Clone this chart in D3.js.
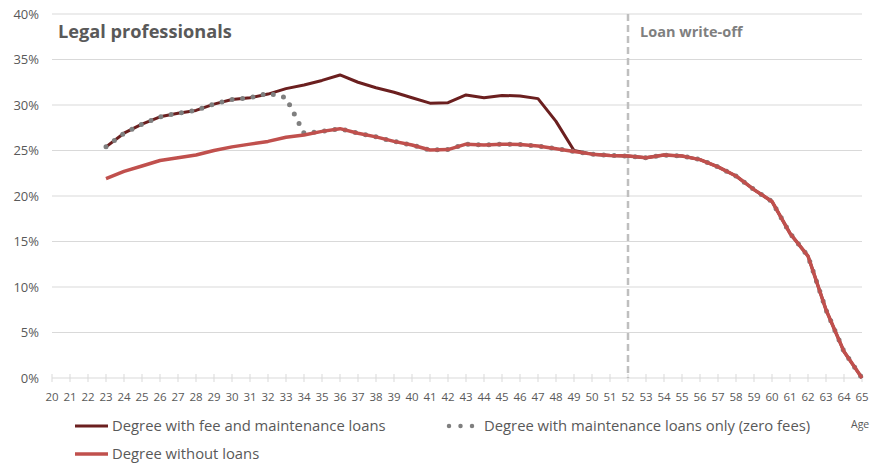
<!DOCTYPE html>
<html>
<head>
<meta charset="utf-8">
<script src="https://cdn.jsdelivr.net/npm/d3@7"></script>
<style>
  body { margin: 0; background: #fff; }
  svg { font-family: "Open Sans", sans-serif; }
  .grid line { stroke: #d9d9d9; stroke-width: 1; }
  .ytick { fill: #595959; font-size: 13px; }
  .xtick { fill: #595959; font-size: 11.5px; }
  .legend text { fill: #595959; font-size: 14.8px; }
</style>
</head>
<body>
<svg id="chart"></svg>
<script>
// ages on the x axis
var ages = d3.range(20, 66);

// series values (%), by age
var feeAges = d3.range(23, 66);
var feeValues = [25.4, 26.9, 27.9, 28.7, 29.1, 29.4, 30.1, 30.6, 30.8, 31.2, 31.8, 32.2, 32.7, 33.3,
  32.5, 31.9, 31.4, 30.8, 30.2, 30.25, 31.1, 30.8, 31.05, 31.0, 30.7, 28.2, 25.0,
  24.6, 24.45, 24.4, 24.2, 24.5, 24.4, 24.0, 23.2, 22.2, 20.7, 19.4, 15.9, 13.4, 7.5, 2.9, 0];

var maintAges = d3.range(23, 66);
var maintValues = [25.4, 26.9, 27.9, 28.7, 29.1, 29.4, 30.1, 30.6, 30.8, 31.3, 30.8, 26.9, 27.1, 27.4,
  26.9, 26.5, 26.0, 25.6, 25.05, 25.1, 25.7, 25.6, 25.7, 25.65, 25.5, 25.2, 24.9,
  24.6, 24.45, 24.4, 24.2, 24.5, 24.4, 24.0, 23.2, 22.2, 20.7, 19.4, 15.9, 13.4, 7.5, 2.9, 0];

var noLoanAges = d3.range(23, 66);
var noLoanValues = [21.9, 22.7, 23.3, 23.9, 24.2, 24.5, 25.0, 25.4, 25.7, 26.0, 26.45, 26.7, 27.1, 27.4,
  26.9, 26.5, 26.0, 25.6, 25.05, 25.1, 25.7, 25.6, 25.7, 25.65, 25.5, 25.2, 24.9,
  24.6, 24.45, 24.4, 24.2, 24.5, 24.4, 24.0, 23.2, 22.2, 20.7, 19.4, 15.9, 13.4, 7.5, 2.9, 0];

var yTicks = [0, 5, 10, 15, 20, 25, 30, 35, 40];
var writeOffAge = 52;

var width = 870, height = 465;
var svg = d3.select("#chart").attr("width", width).attr("height", height);

var x = d3.scaleLinear().domain([20, 65]).range([52, 862]);
var y = d3.scaleLinear().domain([0, 40]).range([378, 14]);

// gridlines
svg.append("g").attr("class", "grid")
  .selectAll("line").data(yTicks.filter(function(d) { return d > 0; }))
  .enter().append("line")
  .attr("x1", x(20)).attr("x2", x(65))
  .attr("y1", function(d) { return y(d); })
  .attr("y2", function(d) { return y(d); });

// y labels
svg.append("g").selectAll("text").data(yTicks).enter().append("text")
  .attr("class", "ytick")
  .attr("x", 39).attr("y", function(d) { return y(d); })
  .attr("dy", "0.35em").attr("text-anchor", "end")
  .text(function(d) { return d + "%"; });

// x axis
svg.append("line")
  .attr("x1", x(20)).attr("x2", x(65)).attr("y1", y(0)).attr("y2", y(0))
  .attr("stroke", "#d9d9d9");
svg.append("g").selectAll("line").data(ages).enter().append("line")
  .attr("x1", function(d) { return x(d); }).attr("x2", function(d) { return x(d); })
  .attr("y1", y(0) - 4).attr("y2", y(0) + 4)
  .attr("stroke", "#d9d9d9");
svg.append("g").selectAll("text").data(ages).enter().append("text")
  .attr("class", "xtick")
  .attr("x", function(d) { return x(d); }).attr("y", 401)
  .attr("text-anchor", "middle")
  .text(function(d) { return d; });
svg.append("text").attr("x", 851).attr("y", 428)
  .attr("fill", "#595959").style("font-size", "10.5px").text("Age");

// write-off marker
svg.append("line")
  .attr("x1", x(writeOffAge)).attr("x2", x(writeOffAge))
  .attr("y1", y(40)).attr("y2", y(0))
  .attr("stroke", "#bfbfbf").attr("stroke-width", 2.5)
  .attr("stroke-dasharray", "7 4");
svg.append("text").attr("x", 640).attr("y", 37)
  .attr("fill", "#7f7f7f").style("font-size", "14.5px").style("font-weight", "bold")
  .text("Loan write-off");

// title
svg.append("text").attr("x", 58).attr("y", 38)
  .attr("fill", "#595959").style("font-size", "18.2px").style("font-weight", "bold")
  .text("Legal professionals");

function series(a, v) {
  return a.map(function(d, i) { return { age: d, value: v[i] }; });
}
var line = d3.line()
  .x(function(d) { return x(d.age); })
  .y(function(d) { return y(d.value); });

svg.append("path").datum(series(feeAges, feeValues))
  .attr("d", line).attr("fill", "none")
  .attr("stroke", "#6b1f1f").attr("stroke-width", 3).attr("stroke-linejoin", "round");
svg.append("path").datum(series(maintAges, maintValues))
  .attr("d", line).attr("fill", "none")
  .attr("stroke", "#7f7f7f").attr("stroke-width", 5).attr("stroke-linecap", "round")
  .attr("stroke-dasharray", "0 10.5");
svg.append("path").datum(series(noLoanAges, noLoanValues))
  .attr("d", line).attr("fill", "none")
  .attr("stroke", "#c0504d").attr("stroke-width", 3.5).attr("stroke-linejoin", "round");

// legend
var lg = svg.append("g").attr("class", "legend");
lg.append("line").attr("x1", 75).attr("x2", 108).attr("y1", 426).attr("y2", 426)
  .attr("stroke", "#6b1f1f").attr("stroke-width", 3);
lg.append("text").attr("x", 112).attr("y", 426).attr("dy", "0.35em")
  .text("Degree with fee and maintenance loans");
lg.append("line").attr("x1", 449).attr("x2", 473).attr("y1", 426).attr("y2", 426)
  .attr("stroke", "#7f7f7f").attr("stroke-width", 4.5).attr("stroke-linecap", "round")
  .attr("stroke-dasharray", "0 11.5");
lg.append("text").attr("x", 484).attr("y", 426).attr("dy", "0.35em")
  .text("Degree with maintenance loans only (zero fees)");
lg.append("line").attr("x1", 75).attr("x2", 108).attr("y1", 454).attr("y2", 454)
  .attr("stroke", "#c0504d").attr("stroke-width", 3.5);
lg.append("text").attr("x", 112).attr("y", 454).attr("dy", "0.35em")
  .text("Degree without loans");
</script>
</body>
</html>
